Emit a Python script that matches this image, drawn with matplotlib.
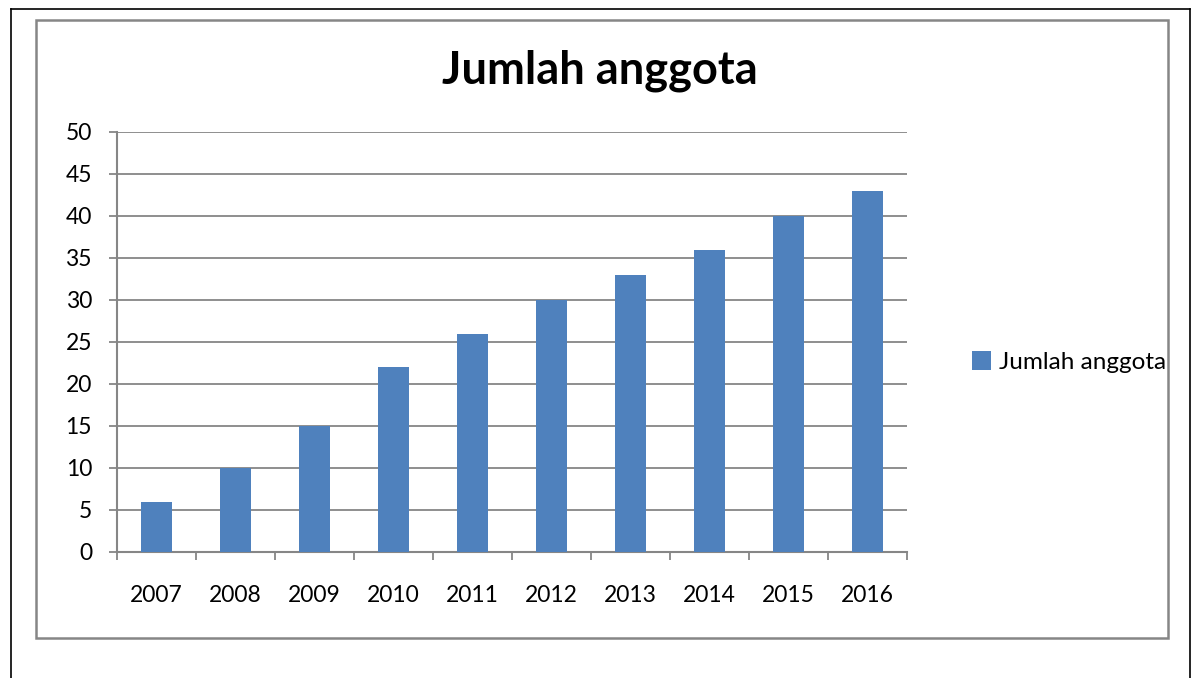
import matplotlib
matplotlib.use("Agg")
import matplotlib.pyplot as plt
from matplotlib.patches import Rectangle
from matplotlib.lines import Line2D

years = ["2007", "2008", "2009", "2010", "2011", "2012", "2013", "2014", "2015", "2016"]
values = [6, 10, 15, 22, 26, 30, 33, 36, 40, 43]
series_name = "Jumlah anggota"
title_text = "Jumlah anggota"
y_ticks = [0, 5, 10, 15, 20, 25, 30, 35, 40, 45, 50]

W, H = 1197, 678
plt.rcParams['font.family'] = ['Lato', 'DejaVu Sans']
fig = plt.figure(figsize=(W / 100, H / 100), dpi=100)
fig.patch.set_facecolor("white")

def fx(px):
    return px / W

def fy(py):
    return 1 - py / H

grey = "#868686"
bar_color = "#4F81BD"

# outer black frame (bottom is outside the image)
for (x0, y0, x1, y1) in [(11, 9, 1190, 9), (11, 9, 11, 690), (1190, 9, 1190, 690)]:
    fig.add_artist(Line2D([fx(x0), fx(x1)], [fy(y0), fy(y1)], color="black", lw=1.2,
                          transform=fig.transFigure))

# grey chart-area frame
fig.add_artist(Rectangle((fx(36), fy(638)), fx(1168) - fx(36), fy(20) - fy(638),
                         transform=fig.transFigure, fill=False, edgecolor=grey, lw=1.8))

ax = fig.add_axes([fx(117), fy(552), fx(907) - fx(117), fy(132) - fy(552)])
x = list(range(len(years)))
ax.bar(x, values, width=0.4, color=bar_color, label=series_name, zorder=3)
ax.set_xlim(-0.5, len(years) - 0.5)
ax.set_ylim(0, 50)
ax.set_yticks(y_ticks)
ax.set_yticklabels([str(t) for t in y_ticks], fontsize=16.5)
ax.yaxis.grid(True, color=grey, lw=1.3, zorder=0)
ax.tick_params(axis="y", length=6, width=1.3, color=grey, pad=12)

ax.set_xticks(x)
ax.set_xticklabels(years, fontsize=16.5)
ax.set_xticks([i - 0.5 for i in range(len(years) + 1)], minor=True)
ax.tick_params(axis="x", which="major", length=0, pad=24)
ax.tick_params(axis="x", which="minor", length=6, width=1.3, color=grey)

for s in ["top", "right"]:
    ax.spines[s].set_visible(False)
for s in ["left", "bottom"]:
    ax.spines[s].set_color(grey)
    ax.spines[s].set_linewidth(1.5)

fig.text(fx(600), fy(71), title_text, ha="center", va="center", fontsize=32.5, fontweight="bold")

leg = fig.legend(loc="center left", bbox_to_anchor=(fx(972), fy(362)), frameon=False,
                 fontsize=17.5, handlelength=0.8, handleheight=0.8, handletextpad=0.3,
                 borderaxespad=0, borderpad=0)

fig.savefig("out.png", dpi=100)
